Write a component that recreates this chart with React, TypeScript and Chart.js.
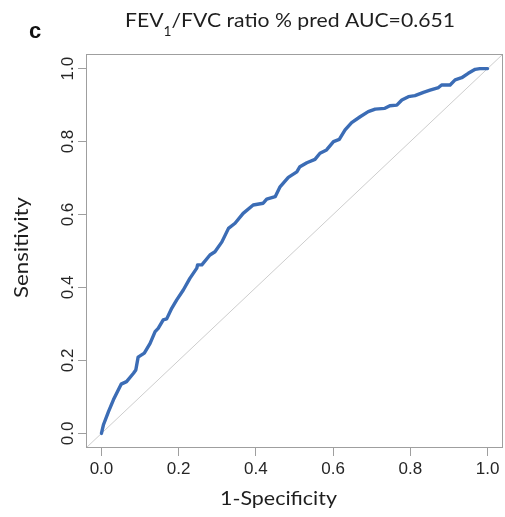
import React, { useEffect, useRef } from "react";
import { Chart, registerables } from "chart.js";

Chart.register(...registerables);

// ROC curve: false positive rate (1-specificity) and sensitivity
const rocFpr = [
  0.0, 0.005, 0.018, 0.031, 0.051, 0.065, 0.083, 0.089, 0.095, 0.111, 0.126, 0.139, 0.147,
  0.16, 0.169, 0.182, 0.195, 0.212, 0.229, 0.247, 0.249, 0.26, 0.281, 0.294, 0.312, 0.329,
  0.346, 0.367, 0.393, 0.419, 0.428, 0.45, 0.462, 0.484, 0.506, 0.514, 0.532, 0.553, 0.566,
  0.583, 0.601, 0.616, 0.631, 0.648, 0.67, 0.691, 0.709, 0.734, 0.747, 0.765, 0.778, 0.795,
  0.812, 0.834, 0.851, 0.873, 0.881, 0.903, 0.916, 0.933, 0.95, 0.968, 0.98, 1.0,
];
const rocTpr = [
  0.0, 0.023, 0.059, 0.092, 0.135, 0.142, 0.165, 0.174, 0.209, 0.22, 0.247, 0.279, 0.288,
  0.311, 0.314, 0.343, 0.366, 0.393, 0.425, 0.453, 0.462, 0.462, 0.489, 0.498, 0.525, 0.562,
  0.576, 0.603, 0.626, 0.631, 0.642, 0.649, 0.675, 0.702, 0.717, 0.731, 0.742, 0.751, 0.768,
  0.777, 0.8, 0.806, 0.832, 0.852, 0.868, 0.882, 0.889, 0.891, 0.898, 0.9, 0.914, 0.923,
  0.926, 0.935, 0.941, 0.948, 0.955, 0.955, 0.969, 0.975, 0.987, 0.998, 1.0, 1.0,
];
// reference (chance) diagonal, spanning the whole plot region
const chanceLine = [-0.04, 1.04];
const axisRange = [-0.04, 1.04];
const xTicks = [0, 0.2, 0.4, 0.6, 0.8, 1.0];
const yTicks = [0, 0.2, 0.4, 0.6, 0.8, 1.0];
const xTickLabels = ["0.0", "0.2", "0.4", "0.6", "0.8", "1.0"];
const yTickLabels = ["0.0", "0.2", "0.4", "0.6", "0.8", "1.0"];

const panelLabel = "c";
const titleMain = "FEV";
const titleSub = "1";
const titleRest = "/FVC ratio % pred AUC=0.651";
const xTitle = "1-Specificity";
const yTitle = "Sensitivity";

const HUMAN = "Lato, 'Open Sans', sans-serif";
const ARIAL = "'Liberation Sans', Arial, sans-serif";

function fitText(
  ctx: CanvasRenderingContext2D,
  text: string,
  font: string,
  targetWidth: number
) {
  ctx.font = font;
  const w = ctx.measureText(text).width;
  return w > 0 ? targetWidth / w : 1;
}

const decorPlugin = {
  id: "decor",
  afterDraw(chart: any) {
    const { ctx, chartArea: a, scales } = chart;
    ctx.save();
    // box around plot region
    ctx.strokeStyle = "#9f9f9f";
    ctx.lineWidth = 1;
    ctx.strokeRect(a.left + 0.5, a.top + 0.5, a.right - a.left - 1, a.bottom - a.top - 1);

    // rotated y tick labels
    ctx.fillStyle = "#262626";
    ctx.font = `17px ${ARIAL}`;
    ctx.textAlign = "center";
    ctx.textBaseline = "alphabetic";
    yTicks.forEach((v, i) => {
      const py = scales.y.getPixelForValue(v);
      ctx.save();
      ctx.translate(a.left - 13.5, py);
      ctx.rotate(-Math.PI / 2);
      ctx.fillText(yTickLabels[i], 0, 0);
      ctx.restore();
    });

    // panel letter
    ctx.fillStyle = "#111111";
    ctx.font = `bold 22px ${ARIAL}`;
    ctx.textAlign = "left";
    ctx.fillText(panelLabel, 29, 37.5);

    // title with subscript
    ctx.fillStyle = "#1e1e1e";
    const mainFont = `20px ${HUMAN}`;
    const subFont = `13px ${HUMAN}`;
    ctx.font = mainFont;
    const w1 = ctx.measureText(titleMain).width;
    const w3 = ctx.measureText(titleRest).width;
    ctx.font = subFont;
    const w2 = ctx.measureText(titleSub).width;
    const sx = 330 / (w1 + w2 + w3);
    ctx.save();
    ctx.translate(125, 27);
    ctx.scale(sx, 1);
    ctx.font = mainFont;
    ctx.fillText(titleMain, 0, 0);
    ctx.font = subFont;
    ctx.fillText(titleSub, w1, 9);
    ctx.font = mainFont;
    ctx.fillText(titleRest, w1 + w2, 0);
    ctx.restore();

    // x axis title
    const xFont = `19px ${HUMAN}`;
    const sxx = fitText(ctx, xTitle, xFont, 117);
    ctx.save();
    ctx.translate(278.5, 505);
    ctx.scale(sxx, 1);
    ctx.font = xFont;
    ctx.textAlign = "center";
    ctx.fillText(xTitle, 0, 0);
    ctx.restore();

    // y axis title
    const yFont = `19px ${HUMAN}`;
    const syy = fitText(ctx, yTitle, yFont, 101);
    ctx.save();
    ctx.translate(28, 247.5);
    ctx.rotate(-Math.PI / 2);
    ctx.scale(syy, 1);
    ctx.font = yFont;
    ctx.textAlign = "center";
    ctx.fillText(yTitle, 0, 0);
    ctx.restore();

    ctx.restore();
  },
};

export default function App() {
  const canvasRef = useRef<HTMLCanvasElement | null>(null);

  useEffect(() => {
    const canvas = canvasRef.current;
    if (!canvas) return;
    const rocData = rocFpr.map((x, i) => ({ x, y: rocTpr[i] }));
    const diagData = chanceLine.map((v) => ({ x: v, y: v }));

    const chart = new Chart(canvas, {
      type: "line",
      data: {
        datasets: [
          {
            data: rocData,
            borderColor: "#3b6cb5",
            borderWidth: 3.4,
            pointRadius: 0,
            tension: 0,
            borderJoinStyle: "round",
            borderCapStyle: "round",
          },
          {
            data: diagData,
            borderColor: "#cdcdcd",
            borderWidth: 1,
            pointRadius: 0,
            tension: 0,
          },
        ],
      },
      options: {
        responsive: false,
        animation: false,
        events: [],
        layout: { padding: { left: 0, right: 2, top: 54, bottom: 0 } },
        plugins: {
          legend: { display: false },
          title: { display: false },
          tooltip: { enabled: false },
        },
        scales: {
          x: {
            type: "linear",
            min: axisRange[0],
            max: axisRange[1],
            afterBuildTicks: (s: any) => {
              s.ticks = xTicks.map((v) => ({ value: v }));
            },
            afterFit: (s: any) => {
              s.height = 69;
            },
            ticks: {
              autoSkip: false,
              maxRotation: 0,
              minRotation: 0,
              padding: 3,
              color: "#262626",
              font: { family: ARIAL, size: 17 },
              callback: (v: any) => {
                const i = xTicks.indexOf(Number(v));
                return i >= 0 ? xTickLabels[i] : "";
              },
            },
            grid: {
              display: true,
              drawOnChartArea: false,
              drawTicks: true,
              tickLength: 8,
              color: "#9f9f9f",
            },
            border: { display: false },
          },
          y: {
            type: "linear",
            min: axisRange[0],
            max: axisRange[1],
            afterBuildTicks: (s: any) => {
              s.ticks = yTicks.map((v) => ({ value: v }));
            },
            afterFit: (s: any) => {
              s.width = 86;
            },
            ticks: { display: false },
            grid: {
              display: true,
              drawOnChartArea: false,
              drawTicks: true,
              tickLength: 8,
              color: "#9f9f9f",
            },
            border: { display: false },
          },
        },
      },
      plugins: [decorPlugin],
    });
    return () => chart.destroy();
  }, []);

  return (
    <div style={{ position: "absolute", left: 0, top: 0, width: 505, height: 517, background: "#ffffff" }}>
      <canvas ref={canvasRef} width={505} height={517} style={{ display: "block" }} />
    </div>
  );
}
